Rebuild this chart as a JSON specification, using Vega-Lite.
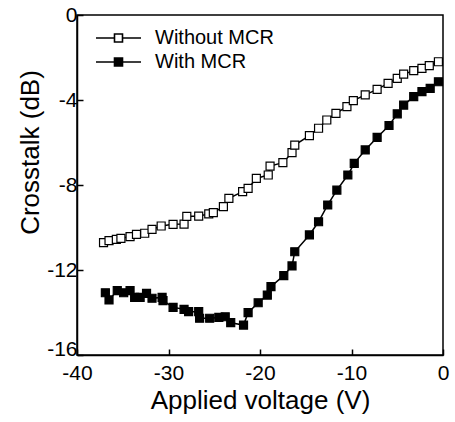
{
  "$schema": "https://vega.github.io/schema/vega-lite/v6.json",
  "width": 366,
  "height": 340,
  "autosize": {"type": "none"},
  "padding": {"left": 77, "top": 15, "right": 12, "bottom": 67},
  "background": "white",
  "config": {
    "view": {"stroke": "black", "strokeWidth": 1.5},
    "font": "Liberation Sans",
    "axis": {
      "domainColor": "black",
      "domainWidth": 1.5,
      "tickColor": "black",
      "tickWidth": 1.5,
      "tickSize": -6,
      "labelColor": "black",
      "labelFont": "Liberation Sans",
      "labelFontSize": 21,
      "titleColor": "black",
      "titleFont": "Liberation Sans",
      "titleFontSize": 26,
      "titleFontWeight": "normal",
      "grid": false
    }
  },
  "data": {
    "values": [
      {"series": "Without MCR", "v": -37.1, "c": -10.71},
      {"series": "Without MCR", "v": -36.5, "c": -10.62},
      {"series": "Without MCR", "v": -35.7, "c": -10.56},
      {"series": "Without MCR", "v": -35.2, "c": -10.51},
      {"series": "Without MCR", "v": -34.2, "c": -10.43},
      {"series": "Without MCR", "v": -33.5, "c": -10.32},
      {"series": "Without MCR", "v": -32.6, "c": -10.27},
      {"series": "Without MCR", "v": -31.8, "c": -10.09},
      {"series": "Without MCR", "v": -30.8, "c": -9.93},
      {"series": "Without MCR", "v": -29.5, "c": -9.85},
      {"series": "Without MCR", "v": -28.3, "c": -9.84},
      {"series": "Without MCR", "v": -28.0, "c": -9.48},
      {"series": "Without MCR", "v": -26.7, "c": -9.46},
      {"series": "Without MCR", "v": -25.6, "c": -9.36},
      {"series": "Without MCR", "v": -25.1, "c": -9.30},
      {"series": "Without MCR", "v": -24.0, "c": -9.02},
      {"series": "Without MCR", "v": -23.4, "c": -8.63},
      {"series": "Without MCR", "v": -21.9, "c": -8.31},
      {"series": "Without MCR", "v": -21.3, "c": -8.16},
      {"series": "Without MCR", "v": -20.4, "c": -7.69},
      {"series": "Without MCR", "v": -19.1, "c": -7.53},
      {"series": "Without MCR", "v": -18.9, "c": -7.11},
      {"series": "Without MCR", "v": -17.5, "c": -6.95},
      {"series": "Without MCR", "v": -16.5, "c": -6.48},
      {"series": "Without MCR", "v": -16.2, "c": -6.12},
      {"series": "Without MCR", "v": -14.6, "c": -5.68},
      {"series": "Without MCR", "v": -13.6, "c": -5.33},
      {"series": "Without MCR", "v": -12.7, "c": -4.94},
      {"series": "Without MCR", "v": -11.7, "c": -4.63},
      {"series": "Without MCR", "v": -10.5, "c": -4.31},
      {"series": "Without MCR", "v": -9.8, "c": -4.03},
      {"series": "Without MCR", "v": -8.5, "c": -3.76},
      {"series": "Without MCR", "v": -7.2, "c": -3.50},
      {"series": "Without MCR", "v": -6.0, "c": -3.22},
      {"series": "Without MCR", "v": -5.0, "c": -2.98},
      {"series": "Without MCR", "v": -4.3, "c": -2.78},
      {"series": "Without MCR", "v": -3.2, "c": -2.62},
      {"series": "Without MCR", "v": -2.3, "c": -2.51},
      {"series": "Without MCR", "v": -1.5, "c": -2.38},
      {"series": "Without MCR", "v": -0.5, "c": -2.20},
      {"series": "With MCR", "v": -36.9, "c": -13.07},
      {"series": "With MCR", "v": -36.5, "c": -13.41},
      {"series": "With MCR", "v": -35.6, "c": -12.97},
      {"series": "With MCR", "v": -34.9, "c": -13.07},
      {"series": "With MCR", "v": -34.2, "c": -12.97},
      {"series": "With MCR", "v": -33.7, "c": -13.29},
      {"series": "With MCR", "v": -33.1, "c": -13.29},
      {"series": "With MCR", "v": -32.4, "c": -13.10},
      {"series": "With MCR", "v": -31.8, "c": -13.33},
      {"series": "With MCR", "v": -30.7, "c": -13.29},
      {"series": "With MCR", "v": -30.6, "c": -13.44},
      {"series": "With MCR", "v": -29.5, "c": -13.76},
      {"series": "With MCR", "v": -28.3, "c": -13.85},
      {"series": "With MCR", "v": -27.8, "c": -13.96},
      {"series": "With MCR", "v": -26.7, "c": -13.96},
      {"series": "With MCR", "v": -26.6, "c": -14.27},
      {"series": "With MCR", "v": -25.5, "c": -14.27},
      {"series": "With MCR", "v": -24.5, "c": -14.23},
      {"series": "With MCR", "v": -23.8, "c": -14.20},
      {"series": "With MCR", "v": -23.2, "c": -14.48},
      {"series": "With MCR", "v": -21.8, "c": -14.59},
      {"series": "With MCR", "v": -21.3, "c": -14.01},
      {"series": "With MCR", "v": -20.2, "c": -13.54},
      {"series": "With MCR", "v": -19.2, "c": -13.18},
      {"series": "With MCR", "v": -18.8, "c": -12.78},
      {"series": "With MCR", "v": -17.4, "c": -12.26},
      {"series": "With MCR", "v": -16.5, "c": -11.81},
      {"series": "With MCR", "v": -16.2, "c": -11.14},
      {"series": "With MCR", "v": -14.6, "c": -10.35},
      {"series": "With MCR", "v": -13.6, "c": -9.73},
      {"series": "With MCR", "v": -12.6, "c": -8.94},
      {"series": "With MCR", "v": -11.6, "c": -8.24},
      {"series": "With MCR", "v": -10.4, "c": -7.53},
      {"series": "With MCR", "v": -9.7, "c": -6.98},
      {"series": "With MCR", "v": -8.5, "c": -6.35},
      {"series": "With MCR", "v": -7.2, "c": -5.76},
      {"series": "With MCR", "v": -5.9, "c": -5.20},
      {"series": "With MCR", "v": -5.0, "c": -4.65},
      {"series": "With MCR", "v": -4.3, "c": -4.24},
      {"series": "With MCR", "v": -3.2, "c": -3.84},
      {"series": "With MCR", "v": -2.3, "c": -3.61},
      {"series": "With MCR", "v": -1.4, "c": -3.45},
      {"series": "With MCR", "v": -0.5, "c": -3.14}
    ]
  },
  "encoding": {
    "x": {
      "field": "v",
      "type": "quantitative",
      "scale": {"domain": [-40, 0], "nice": false, "zero": false},
      "axis": {"title": "Applied voltage (V)", "values": [-40, -30, -20, -10, 0], "labelExpr": "'' + datum.value", "labelPadding": 13, "titlePadding": 4, "labelFlush": false}
    },
    "y": {
      "field": "c",
      "type": "quantitative",
      "scale": {"domain": [-16, 0], "nice": false, "zero": false},
      "axis": {
        "title": "Crosstalk (dB)",
        "values": [-16, -12, -8, -4, 0],
        "labelExpr": "'' + datum.value",
        "labelPadding": 6,
        "labelBaseline": {"condition": {"test": "datum.value == -16", "value": "alphabetic"}, "value": "middle"},
        "titleX": -47,
        "titleY": 137,
        "titleAlign": "center",
        "titleBaseline": "middle",
        "titleAngle": -90,
        "labelFlush": false
      }
    }
  },
  "layer": [
    {
      "mark": {"type": "line", "color": "black", "strokeWidth": 1.5},
      "encoding": {"detail": {"field": "series", "type": "nominal"}}
    },
    {
      "mark": {"type": "point", "shape": "square", "size": 64, "filled": true, "stroke": "black", "strokeWidth": 1.2, "opacity": 1},
      "encoding": {
        "fill": {
          "field": "series",
          "type": "nominal",
          "scale": {"domain": ["Without MCR", "With MCR"], "range": ["white", "black"]},
          "legend": {
            "title": null,
            "orient": "none",
            "legendX": 31.5,
            "legendY": 13,
            "padding": 0,
            "symbolType": "M-4.5,0H-0.8M0.8,0H4.5M-0.8,-0.8H0.8V0.8H-0.8Z",
            "symbolSize": 100,
            "symbolStrokeColor": "black",
            "symbolStrokeWidth": 1.6,
            "symbolOpacity": 1,
            "labelOffset": 26.5,
            "labelFont": "Liberation Sans",
            "labelFontSize": 20,
            "labelColor": "black",
            "rowPadding": 4
          }
        }
      }
    }
  ]
}
